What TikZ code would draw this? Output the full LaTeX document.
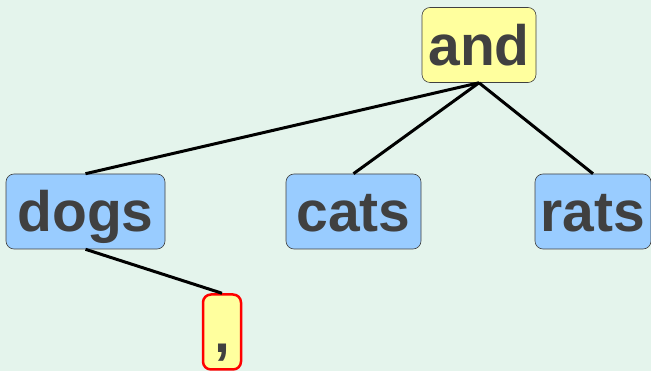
\documentclass[tikz,border=0pt]{standalone}
\usepackage{fontspec}
\setmainfont{Liberation Sans}
\usepackage{xcolor}
\usepackage{tikz}
\usetikzlibrary{positioning}
\definecolor{TreeBack}{HTML}{E4F4EC}
\definecolor{TreeYellow}{HTML}{FFFF9E}
\definecolor{TreeBlue}{HTML}{99CCFF}
\definecolor{TreeText}{HTML}{404040}
\definecolor{TreeRed}{HTML}{FF0000}

\begin{document}
\begin{tikzpicture}[x=1pt, y=-1pt]
    \tikzstyle{word} = [rectangle, rounded corners=8pt, draw=TreeText, line width=0.6pt, inner sep=0pt, text height=48pt, text depth=7pt, minimum height=75pt, text=TreeText, font=\fontsize{57}{60}\selectfont\bfseries]
    \tikzstyle{head} = [word, fill=TreeYellow]
    \tikzstyle{leaf} = [word, fill=TreeBlue]
    \tikzstyle{punct} = [word, fill=TreeYellow, draw=TreeRed, line width=2.5pt]
    \tikzstyle{branch} = [line width=3pt, black]

    \fill[TreeBack] (0,0) rectangle (651,371);
    \useasboundingbox (0,0) rectangle (651,371);

    \node (and) [head, minimum width=114pt] at (479,45) {and};
    \node (dogs) [leaf, minimum width=159pt] at (85.5,211.5) {dogs};
    \node (cats) [leaf, minimum width=135pt] at (353.5,211.5) {cats};
    \node (rats) [leaf, minimum width=116pt] at (593,211.5) {rats};
    \node (comma) [punct, minimum width=38pt] at (222,332) {,};

    \draw [branch] (and.south) -- (dogs.north);
    \draw [branch] (and.south) -- (cats.north);
    \draw [branch] (and.south) -- (rats.north);
    \draw [branch] (dogs.south) -- (comma.north);

\end{tikzpicture}
\end{document}
